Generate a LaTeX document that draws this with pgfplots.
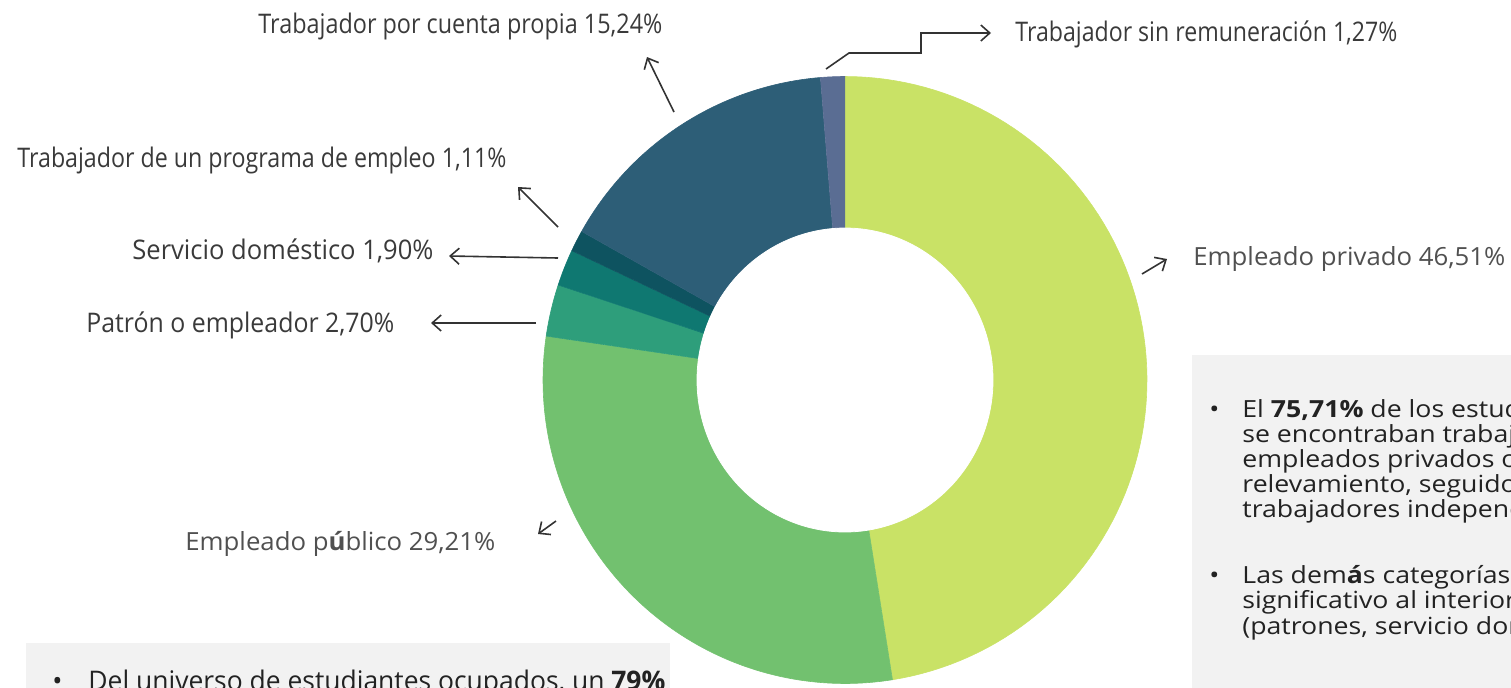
\documentclass[border=0pt]{standalone}
\usepackage{pgfplots}
\pgfplotsset{compat=1.18}
\usepackage{fontspec}
\setmainfont{Open Sans}
\newfontfamily\widefont[FakeStretch=1.13]{Open Sans}
\usetikzlibrary{arrows.meta}
\definecolor{cPriv}{HTML}{C9E266}
\definecolor{cPub}{HTML}{72C16F}
\definecolor{cPat}{HTML}{2E9E7B}
\definecolor{cServ}{HTML}{0F7871}
\definecolor{cProg}{HTML}{0E5360}
\definecolor{cCta}{HTML}{2D5E77}
\definecolor{cSin}{HTML}{5A6D93}
\definecolor{lab}{HTML}{3A3A3A}
\definecolor{labl}{HTML}{505050}
\definecolor{boxg}{HTML}{F2F2F2}
\definecolor{txt}{HTML}{222222}
\definecolor{arrc}{HTML}{333333}

% wedge of the donut: cumulative start and end (per cent of total 97.94)
% samples 0..90 run along the outer arc, sample 91 is the centre
\newcommand{\donutwedge}[3]{%
  \pgfmathsetmacro{\aA}{90-(#1)*(360/97.94)}%
  \pgfmathsetmacro{\aB}{90-(#2)*(360/97.94)}%
  \addplot[fill=#3, draw=#3, line width=0.3pt, samples at={0,1,...,91}, variable=\t]
    ({845+(\t<90.5 ? 302*cos(\aB+(\aA-\aB)*\t/90) : 0)},
     {380-(\t<90.5 ? 303.5*sin(\aB+(\aA-\aB)*\t/90) : 0)});
}

\begin{document}
\begin{tikzpicture}[
  lab/.style={anchor=base west, inner sep=0pt, text=lab, font=\fontsize{13.5pt}{15pt}\selectfont},
  labl/.style={anchor=base west, inner sep=0pt, text=labl, font=\fontsize{12.5pt}{15pt}\selectfont},
  rb/.style={anchor=base west, inner sep=0pt, text=txt, font=\widefont\fontsize{11.8pt}{14pt}\selectfont},
  arr/.style={draw=arrc, line width=0.8pt, -{Straight Barb[length=4.5pt,width=8pt]}},
]
\begin{axis}[
  width=755.5pt, height=343.5pt, scale only axis,
  xmin=0, xmax=1511, ymin=0, ymax=687, y dir=reverse,
  hide axis, clip=true, clip bounding box=upper bound,
]
% full canvas (keeps the page the size of the whole slide crop)
\path (axis cs:0,0) rectangle (axis cs:1511,687);
% grey text boxes
\fill[boxg] (axis cs:1192,355) rectangle (axis cs:1530,700);
\fill[boxg] (axis cs:26,643) rectangle (axis cs:670,700);

% donut
\donutwedge{0}{46.51}{cPriv}
\donutwedge{46.51}{75.72}{cPub}
\donutwedge{75.72}{78.42}{cPat}
\donutwedge{78.42}{80.32}{cServ}
\donutwedge{80.32}{81.43}{cProg}
\donutwedge{81.43}{96.67}{cCta}
\donutwedge{96.67}{97.94}{cSin}
\addplot[fill=white, draw=white, domain=0:360, samples=160, variable=\t]
  ({845+148*cos(\t)}, {380-152*sin(\t)});

% labels
\node[lab] at (axis cs:258,33) {\resizebox{202pt}{\height}{Trabajador por cuenta propia 15,24\%}};
\node[lab] at (axis cs:1015,41) {\resizebox{191pt}{\height}{Trabajador sin remuneración 1,27\%}};
\node[lab] at (axis cs:17,167) {\resizebox{244.5pt}{\height}{Trabajador de un programa de empleo 1,11\%}};
\node[lab] at (axis cs:132,259) {\resizebox{150.5pt}{\height}{Servicio doméstico 1,90\%}};
\node[lab] at (axis cs:86,332) {\resizebox{154pt}{\height}{Patrón o empleador 2,70\%}};
\node[labl] at (axis cs:1193,265) {\resizebox{156pt}{\height}{Empleado privado 46,51\%}};
\node[labl] at (axis cs:185,550) {\resizebox{155pt}{\height}{Empleado p\textbf{ú}blico 29,21\%}};

% arrows
\draw[arr] (axis cs:674,112) -- (axis cs:647,57);
\draw[arr] (axis cs:826,69) -- (axis cs:849,53) -- (axis cs:921,53) -- (axis cs:921,33) -- (axis cs:991,33);
\draw[arr] (axis cs:558,227) -- (axis cs:518,187);
\draw[arr] (axis cs:558,258) -- (axis cs:449,256);
\draw[arr] (axis cs:536,323) -- (axis cs:431,323);
\draw[arr] (axis cs:1142,274) -- (axis cs:1167,259);
\draw[arr] (axis cs:556,521) -- (axis cs:538,534);

% right text box (cut at the right edge, as in the slide crop)
\node[rb] at (axis cs:1209,417) {\textbullet};
\node[rb] at (axis cs:1242,417) {El \textbf{75,71\%} de los estudiantes};
\node[rb] at (axis cs:1242,442) {se encontraban trabajando};
\node[rb] at (axis cs:1242,467) {empleados privados o};
\node[rb] at (axis cs:1242,492) {relevamiento, seguidos};
\node[rb] at (axis cs:1242,517) {trabajadores independientes};
\node[rb] at (axis cs:1209,583) {\textbullet};
\node[rb] at (axis cs:1242,583) {Las dem\textbf{á}s categorías};
\node[rb] at (axis cs:1242,608) {significativo al interior};
\node[rb] at (axis cs:1242,634) {(patrones, servicio doméstico};

% bottom-left text box
\node[lab, text=txt] at (axis cs:52,690) {\textbullet};
\node[lab, text=txt] at (axis cs:88,690) {\resizebox{288.5pt}{\height}{Del universo de estudiantes ocupados, un \textbf{79\%}}};
\end{axis}
\end{tikzpicture}
\end{document}
